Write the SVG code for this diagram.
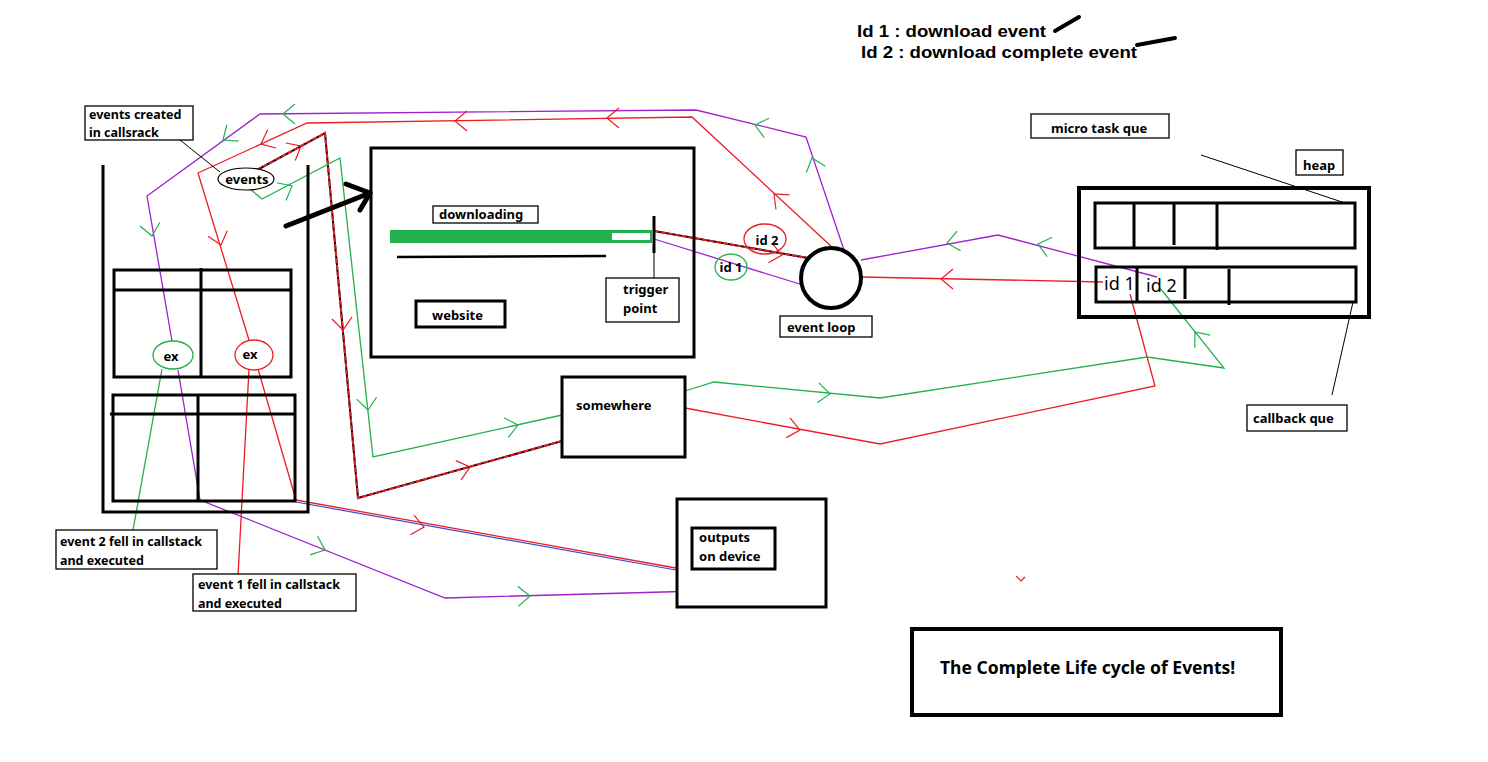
<svg xmlns="http://www.w3.org/2000/svg" width="1488" height="762" viewBox="0 0 1488 762">
<defs>
<style>
text{font-family:"Noto Sans","Open Sans","Liberation Sans",sans-serif;font-weight:bold;fill:#000}
.t12{font-size:12.5px}
.t13{font-size:13px}
.t17{font-size:17.5px}
.leg{font-family:"Liberation Sans",Arial,sans-serif;font-size:17px}
.box{fill:#fff;stroke:#000;stroke-width:1.3}
.tbox{fill:#fff;stroke:#000;stroke-width:3}
.blk{fill:none;stroke:#000;stroke-width:3}
.thin{fill:none;stroke:#000;stroke-width:1}
.r{fill:none;stroke:#ed1c24;stroke-width:1.3}
.g{fill:none;stroke:#22b14c;stroke-width:1.3}
.p{fill:none;stroke:#a020d0;stroke-width:1.3}
.rb{fill:none;stroke:#000;stroke-width:2}
.rd{fill:none;stroke:#ed1c24;stroke-width:2;stroke-dasharray:5 2}
.chr{fill:none;stroke:#ed1c24;stroke-width:1.2}
.chg{fill:none;stroke:#22b14c;stroke-width:1.2}
</style>
<path id="chev" d="M-12,-10 L0,0 L-12,10"/>
</defs>
<rect width="1488" height="762" fill="#fff"/>

<!-- legend -->
<g id="legend">
<text class="leg" x="857" y="37" textLength="189" lengthAdjust="spacingAndGlyphs">Id 1 : download event</text>
<text class="leg" x="861" y="58" textLength="276" lengthAdjust="spacingAndGlyphs">Id 2 : download complete event</text>
<path d="M1055,31 L1079,17" stroke="#000" stroke-width="4" stroke-linecap="round"/>
<path d="M1137,45 L1175,38" stroke="#000" stroke-width="4" stroke-linecap="round"/>
</g>

<!-- connectors -->
<g id="connectors">
<!-- purple top loop -->
<polyline class="p" points="844,250 806,137 696,110 260,114 147,196 172,341"/>
<polyline class="p" points="178,370 200,500 445,598 700,591"/>
<polyline class="p" points="654,239 803,285"/>
<polyline class="p" points="1157,277 998,235 861,260"/>
<!-- red top loop -->
<polyline class="r" points="833,248 692,117 307,123 198,173 249,340"/>
<polyline class="r" points="258,369 296,500"/>
<path d="M296,502 L687,572" fill="none" stroke="#3f48cc" stroke-width="1.2"/>
<path class="r" d="M296,500 L687,570"/>
<polyline class="rb" points="257,170 325,133 358,498 562,441"/>
<polyline class="rd" points="257,170 325,133 358,498 562,441"/>
<path class="rb" d="M654,231 L808,258"/>
<path class="rd" d="M654,231 L808,258"/>
<polyline class="r" points="685,408 880,444 1155,386 1130,294"/>
<polyline class="r" points="1103,282 861,277"/>
<!-- green -->
<polyline class="g" points="250,189 262,199 340,158 373,457 562,415"/>
<polyline class="g" points="685,391 714,382 880,398 1147,357 1224,368 1160,288"/>
<path class="g" d="M162,369 L133,530"/>
<path class="r" d="M249,369 L238,576"/>
<!-- annotation lines -->
<path class="thin" d="M165,128 L220,172"/>
<path class="thin" d="M1201,155 L1345,203"/>
<path class="thin" d="M1353,302 L1332,395"/>
<path d="M654,252 L654,278" class="thin"/>
<!-- chevrons red -->
<use href="#chev" class="chr" transform="translate(774,194) rotate(-137)"/>
<use href="#chev" class="chr" transform="translate(607,118) rotate(180)"/>
<use href="#chev" class="chr" transform="translate(455,121) rotate(180)"/>
<use href="#chev" class="chr" transform="translate(261,144) rotate(155)"/>
<use href="#chev" class="chr" transform="translate(221,245) rotate(73.6)"/>
<use href="#chev" class="chr" transform="translate(301,146) rotate(-28.6)"/>
<use href="#chev" class="chr" transform="translate(343,330) rotate(84.8)"/>
<use href="#chev" class="chr" transform="translate(470,467) rotate(-15.6)"/>
<use href="#chev" class="chr" transform="translate(424,527) rotate(10.1)"/>
<use href="#chev" class="chr" transform="translate(800,430) rotate(10.5)"/>
<use href="#chev" class="chr" transform="translate(941,279) rotate(180)"/>
<use href="#chev" class="chr" transform="translate(782,255) rotate(10)"/>
<!-- chevrons green -->
<use href="#chev" class="chg" transform="translate(812,158) rotate(-108.6)"/>
<use href="#chev" class="chg" transform="translate(755,125) rotate(-166)"/>
<use href="#chev" class="chg" transform="translate(283,114) rotate(180)"/>
<use href="#chev" class="chg" transform="translate(223,140) rotate(144)"/>
<use href="#chev" class="chg" transform="translate(152,236) rotate(80)"/>
<use href="#chev" class="chg" transform="translate(325,550) rotate(21.8)"/>
<use href="#chev" class="chg" transform="translate(530,596) rotate(-1.6)"/>
<use href="#chev" class="chg" transform="translate(1038,244) rotate(-165.5)"/>
<use href="#chev" class="chg" transform="translate(947,243) rotate(169.7)"/>
<use href="#chev" class="chg" transform="translate(292,186) rotate(-27.7)"/>
<use href="#chev" class="chg" transform="translate(368,410) rotate(83.7)"/>
<use href="#chev" class="chg" transform="translate(518,425) rotate(-12.5)"/>
<use href="#chev" class="chg" transform="translate(830,394) rotate(5.5)"/>
<use href="#chev" class="chg" transform="translate(1195,332) rotate(-128.7)"/>
<path d="M1016,576 L1021,581 L1025,577" fill="none" stroke="#ed1c24" stroke-width="1.2"/>
</g>

<!-- call stack -->
<g id="callstack">
<polyline class="blk" points="103,165 103,512 308,512 308,165"/>
<rect class="blk" x="114" y="270" width="177" height="107"/>
<path class="blk" d="M114,290 L292,290 M201,268 L201,378"/>
<rect class="blk" x="113" y="395" width="182" height="106"/>
<path class="blk" d="M110,414 L294,414 M198,395 L198,501"/>
</g>
<g id="ex-green">
<ellipse cx="173" cy="355" rx="20" ry="14" fill="none" stroke="#22b14c" stroke-width="1.3"/>
<text class="t13" x="171" y="361" text-anchor="middle">ex</text>
</g>
<g id="ex-red">
<ellipse cx="254" cy="355" rx="19" ry="15" fill="none" stroke="#ed1c24" stroke-width="1.3"/>
<text class="t13" x="250" y="359" text-anchor="middle">ex</text>
</g>
<g id="label-events-created">
<rect class="box" x="85" y="106" width="108" height="34"/>
<text class="t12" x="89" y="119">events created</text>
<text class="t12" x="89" y="137">in callsrack</text>
</g>
<g id="events">
<ellipse cx="246" cy="179" rx="28" ry="11" fill="#fff" stroke="#000" stroke-width="1.2"/>
<text class="t13" x="247" y="184" text-anchor="middle">events</text>
</g>
<g id="label-event2">
<rect class="box" x="56" y="530" width="161" height="39"/>
<text class="t12" x="60" y="546">event 2 fell in callstack</text>
<text class="t12" x="60" y="565">and executed</text>
</g>
<g id="label-event1">
<rect class="box" x="193" y="574" width="163" height="37"/>
<text class="t12" x="198" y="589">event 1 fell in callstack</text>
<text class="t12" x="198" y="608">and executed</text>
</g>

<!-- big arrow -->
<g id="big-arrow">
<path d="M286,226 L370,193 M346,184 L370,193 L360,210" fill="none" stroke="#000" stroke-width="5" stroke-linecap="round" stroke-linejoin="round"/>
</g>

<!-- website -->
<g id="website">
<rect class="blk" x="371" y="148" width="323" height="209"/>
<rect class="box" x="433" y="206" width="105" height="17"/>
<text class="t13" x="439" y="219">downloading</text>
<rect x="390" y="230" width="262" height="13" fill="#22b14c"/>
<rect x="612" y="233" width="38" height="7" fill="#fff"/>
<path d="M397,257 L606,256" stroke="#000" stroke-width="2.5"/>
<path d="M654,216 L654,253" stroke="#000" stroke-width="3"/>
<rect class="tbox" x="416" y="301" width="89" height="26"/>
<text class="t13" x="432" y="320">website</text>
</g>
<g id="trigger-point">
<rect class="box" x="606" y="278" width="73" height="44"/>
<text class="t13" x="623" y="294">trigger</text>
<text class="t13" x="623" y="313">point</text>
</g>

<g id="id2-bubble">
<ellipse cx="765" cy="239" rx="21" ry="15" fill="none" stroke="#ed1c24" stroke-width="1.3"/>
<text class="t13" x="767" y="245" text-anchor="middle">id 2</text>
</g>
<g id="id1-bubble">
<ellipse cx="731" cy="267" rx="16" ry="13" fill="none" stroke="#22b14c" stroke-width="1.3"/>
<text class="t13" x="731" y="272" text-anchor="middle">id 1</text>
</g>

<g id="event-loop">
<circle cx="831" cy="278" r="30" fill="#fff" stroke="#000" stroke-width="4"/>
<rect class="box" x="780" y="316" width="92" height="21"/>
<text class="t13" x="787" y="332">event loop</text>
</g>

<g id="somewhere">
<rect class="tbox" x="562" y="377" width="123" height="80"/>
<text class="t13" x="576" y="410">somewhere</text>
</g>

<g id="outputs">
<rect class="tbox" x="677" y="499" width="149" height="108"/>
<rect class="tbox" x="692" y="528" width="83" height="41"/>
<text class="t13" x="699" y="542">outputs</text>
<text class="t13" x="699" y="561">on device</text>
</g>

<g id="micro-task-que">
<rect class="box" x="1031" y="114" width="138" height="24"/>
<text class="t13" x="1051" y="133">micro task que</text>
</g>
<g id="heap-label">
<rect class="box" x="1296" y="150" width="47" height="25"/>
<text class="t13" x="1303" y="170">heap</text>
</g>
<g id="heap">
<rect x="1079" y="188" width="290" height="129" fill="none" stroke="#000" stroke-width="4"/>
<rect class="blk" x="1095" y="203" width="260" height="45"/>
<path class="blk" d="M1134,203 L1134,248 M1174,203 L1174,245 M1217,203 L1217,250"/>
<rect class="blk" x="1096" y="267" width="260" height="35"/>
<path class="blk" d="M1137,267 L1137,302 M1185,267 L1185,299 M1229,269 L1229,305"/>
<text x="1104" y="290" style="font-size:18px;font-weight:normal">id 1</text>
<text x="1146" y="292" style="font-size:18px;font-weight:normal">id 2</text>
</g>
<g id="callback-que">
<rect class="box" x="1247" y="405" width="100" height="26"/>
<text class="t13" x="1253" y="423">callback que</text>
</g>

<g id="title">
<rect x="912" y="629" width="369" height="86" fill="none" stroke="#000" stroke-width="4"/>
<text class="t17" x="940" y="674">The Complete Life cycle of Events!</text>
</g>
</svg>
